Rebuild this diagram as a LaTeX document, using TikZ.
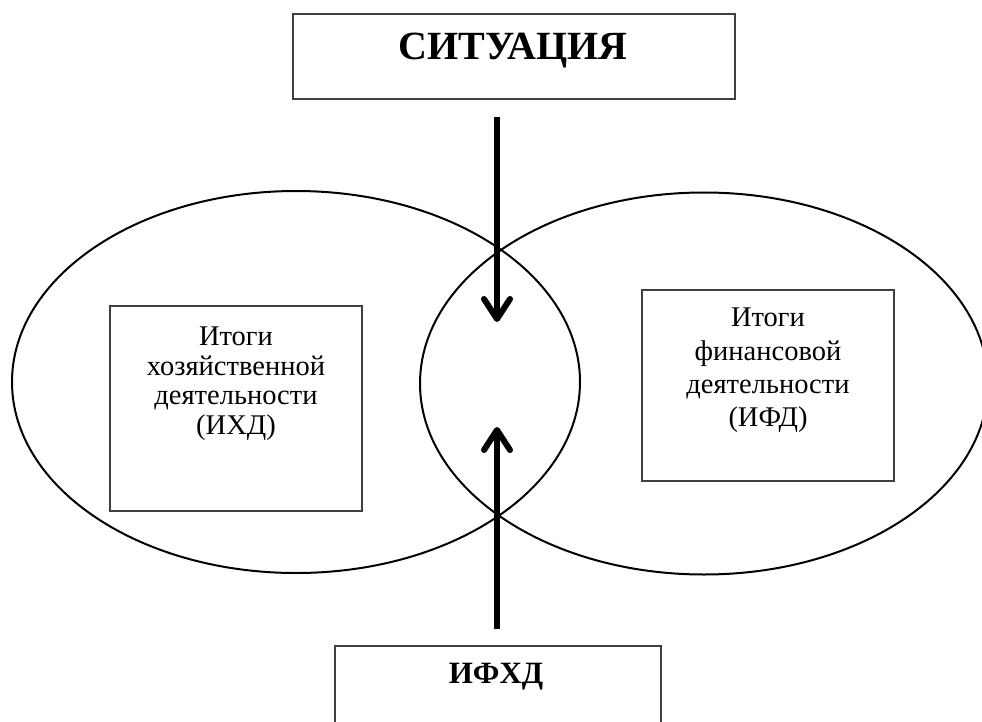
\documentclass[tikz,border=0pt]{standalone}
\usepackage{fontspec}
\setmainfont{Liberation Serif}
\usetikzlibrary{arrows.meta,shapes.geometric}
\definecolor{frameGray}{HTML}{404040}

\begin{document}
\begin{tikzpicture}[x=1pt,y=-1pt,
  box/.style={draw=frameGray,line width=1.5pt,inner sep=0pt},
  inbox/.style={draw=frameGray,line width=1.2pt,inner sep=0pt},
  oval/.style={ellipse,draw,line width=2pt,inner sep=0pt,minimum width=568pt,minimum height=382pt},
  txt/.style={anchor=north,align=center,inner sep=0pt},
  hd/.style={anchor=base,inner sep=0pt,font=\bfseries},
  flow/.style={line width=6pt,-{Straight Barb[length=20pt,width=26pt,round]}}]
  \clip (0,0) rectangle (982,722);
  % two overlapping fields
  \node[oval] (hd) at (296,382) {};
  \node[oval] (fd) at (704,383.5) {};
  % boxes
  \node[box,minimum width=442pt,minimum height=85pt] (sit) at (514,56.5) {};
  \node[box,minimum width=326pt,minimum height=120pt] (ifhd) at (498,706) {};
  \node[inbox,minimum width=252pt,minimum height=205pt] (ihd) at (236,408.5) {};
  \node[inbox,minimum width=252pt,minimum height=191pt] (ifd) at (768,385.5) {};
  % texts
  \node[hd,font=\bfseries\fontsize{40}{44}\selectfont] (sitT) at (513,60) {СИТУАЦИЯ};
  \node[hd,font=\bfseries\fontsize{31}{34}\selectfont] (ifhdT) at (496,683) {ИФХД};
  \node[txt,font=\fontsize{28.5}{29.4}\selectfont] (ihdT) at (236,327) {Итоги\\ хозяйственной\\ деятельности\\ (ИХД)};
  \node[txt,font=\fontsize{28.5}{33.3}\selectfont] (ifdT) at (768,308) {Итоги\\ финансовой\\ деятельности\\ (ИФД)};
  % arrows
  \coordinate (dnA) at (497,117); \coordinate (dnB) at (497,322);
  \coordinate (upA) at (497,629); \coordinate (upB) at (497,427);
  \draw[flow] (dnA) -- (dnB);
  \draw[flow] (upA) -- (upB);
\end{tikzpicture}
\end{document}
